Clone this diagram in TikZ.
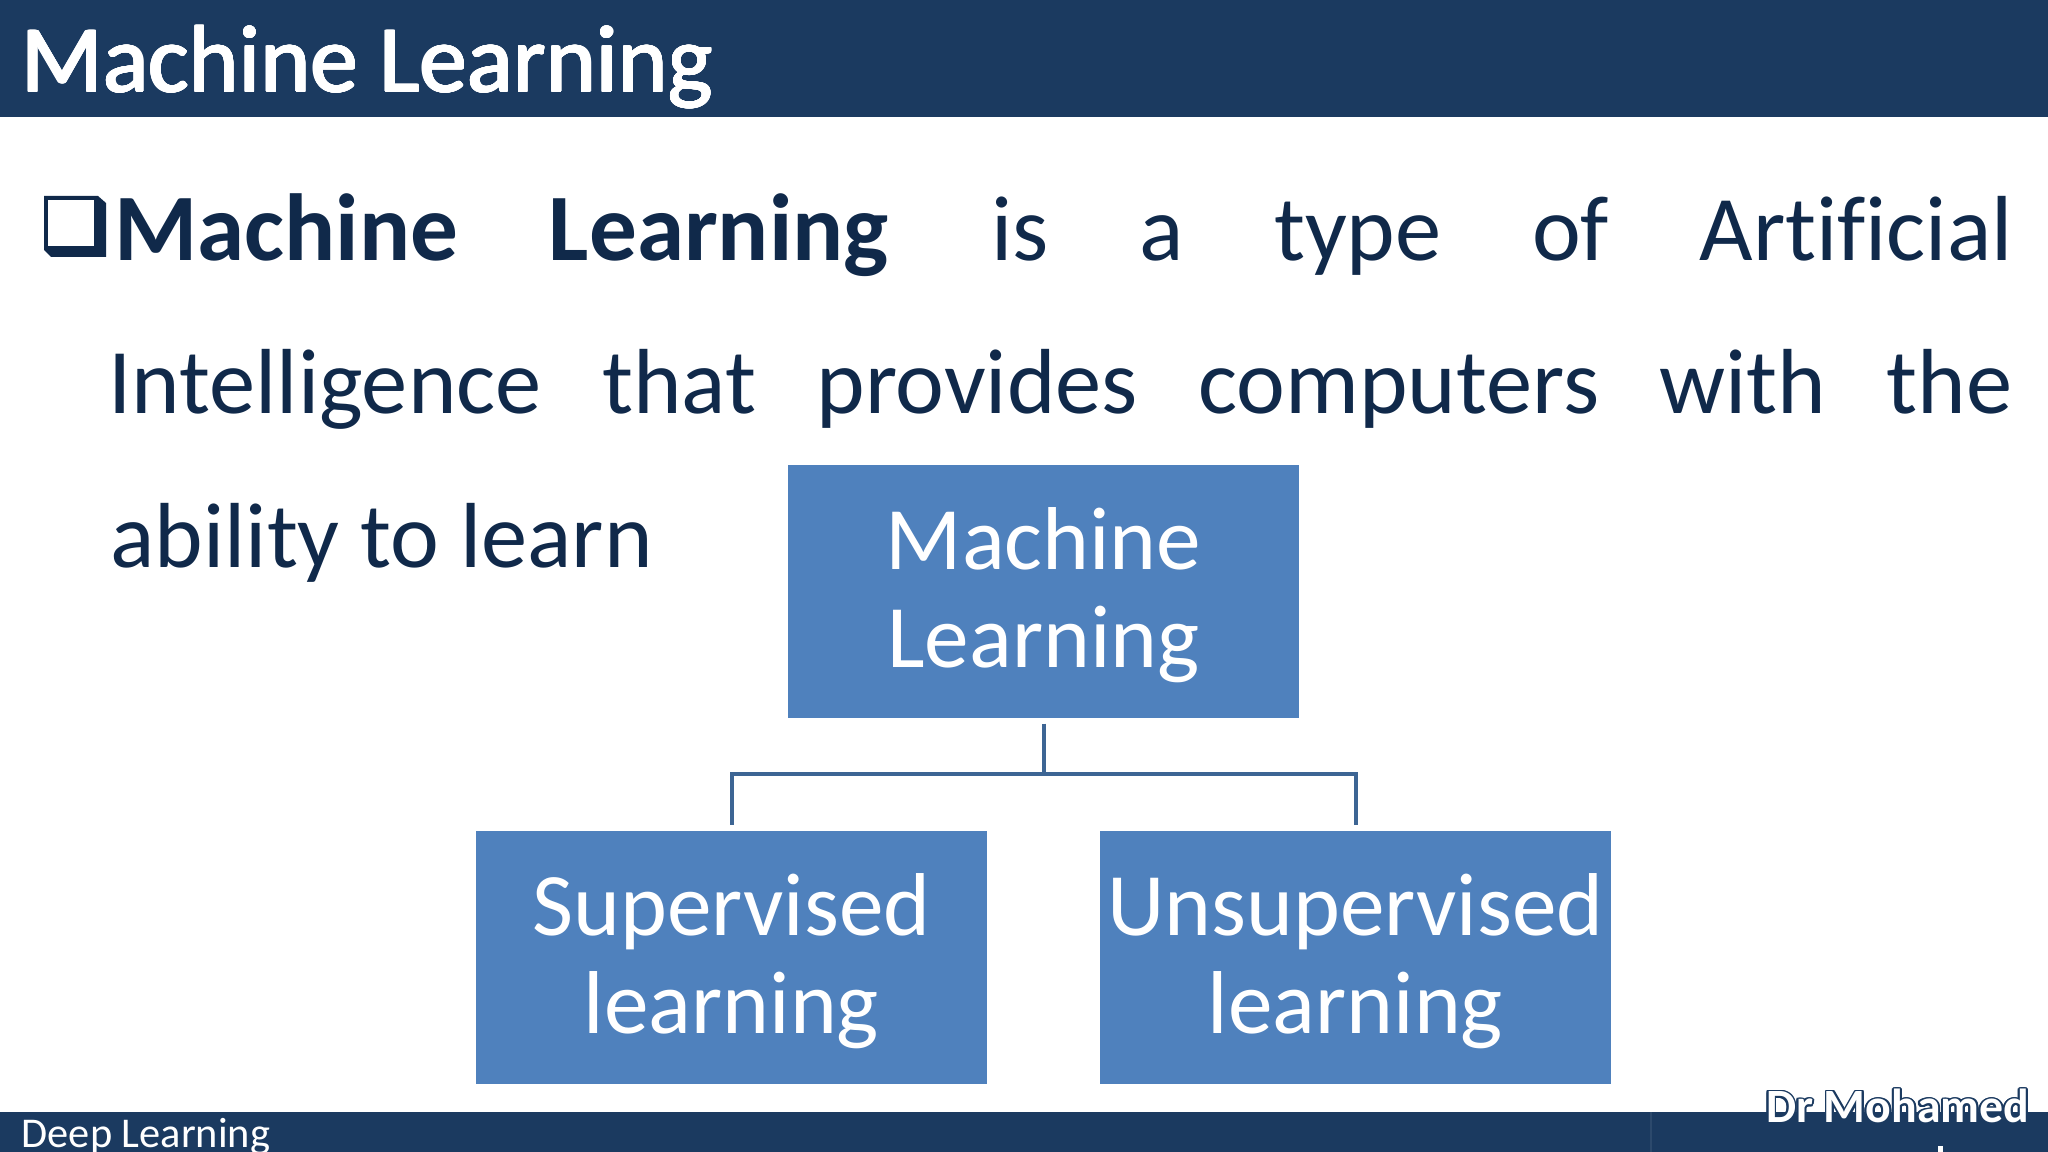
\documentclass[tikz,border=0pt]{standalone}
\usepackage{fontspec}
\usepackage[copies]{contour}
\setmainfont[Ligatures=NoCommon]{Carlito}
\definecolor{barblue}{HTML}{1B3A60}
\definecolor{boxblue}{HTML}{4F81BD}
\definecolor{linkblue}{HTML}{3D6594}
\definecolor{inkblue}{HTML}{10294A}
\newcommand{\mltop}{\rule{0pt}{19.7pt}}
\tikzset{
  mlbox/.style={fill=boxblue, text=white, minimum width=5.11cm, minimum height=2.53cm, inner sep=0pt, align=center, font=\fontsize{25.4}{28}\selectfont},
  mlline/.style={anchor=base west, inner sep=0pt, text=inkblue, font=\fontsize{26.3}{30}\selectfont},
  mllink/.style={draw=linkblue, line width=0.04cm}
}
\begin{document}
\begin{tikzpicture}
\useasboundingbox (0,0) rectangle (20.48,11.52);
% bars
\fill[barblue] (0,10.35) rectangle (20.48,11.52);
\fill[barblue] (0,0) rectangle (20.48,0.40);
\draw[white, opacity=0.08, line width=0.02cm] (16.51,0) -- (16.51,0.40);
\contourlength{0.25pt}
\node[anchor=base west, inner sep=0pt, font=\fontsize{27.1}{30}\selectfont] (title) at (0.21,10.60) {\contour{white}{\textcolor{white}{Machine Learning}}};
\node[anchor=base west, inner sep=0pt, text=white, font=\fontsize{12.07}{14}\selectfont] (course) at (0.21,0.04) {Deep Learning};
\contourlength{0.55pt}
\node[anchor=base east, inner sep=0pt, font=\fontsize{13.6}{15}\selectfont\bfseries] (author) at (20.30,0.29) {\contour{barblue}{\textcolor{white}{Dr Mohamed}}};
\draw[white, line width=0.05cm] (19.405,0) -- (19.405,0.06);
% bullet
\fill[inkblue] (0.44,9.02) -- (0.44,9.56) -- (0.98,9.56) -- (1.06,9.49) -- (1.06,8.95) -- (0.51,8.95) -- cycle;
\fill[white] (0.48,9.06) rectangle (0.94,9.52);
% text lines
\node[mlline] (lineone) at (1.14,8.91) {\makebox[18.98cm][s]{\fontsize{27.1}{30}\selectfont\textbf{Machine\hfill Learning}\hspace{0.12cm}\hfill\fontsize{26.3}{30}\selectfont is\hfill a\hfill type\hfill of\hfill Artificial}};
\node[mlline] (linetwo) at (1.08,7.38) {\makebox[19.04cm][s]{Intelligence\hfill that\hfill provides\hfill computers\hfill with\hfill the}};
\node[mlline] (linethree) at (1.10,5.84) {ability to learn};
% chart
\node[mlbox] (ml) at (10.435,5.605) {\mltop Machine\\Learning};
\node[mlbox] (sl) at (7.315,1.945) {\mltop Supervised\\learning};
\node[mlbox] (ul) at (13.555,1.945) {\mltop Unsupervised\\learning};
\coordinate (fork) at (10.435,3.78);
\draw[mllink, shorten <=0.05cm] (ml.south) -- (fork);
\draw[mllink, shorten >=0.05cm] (fork) -| (sl.north);
\draw[mllink, shorten >=0.05cm] (fork) -| (ul.north);
\end{tikzpicture}
\end{document}
